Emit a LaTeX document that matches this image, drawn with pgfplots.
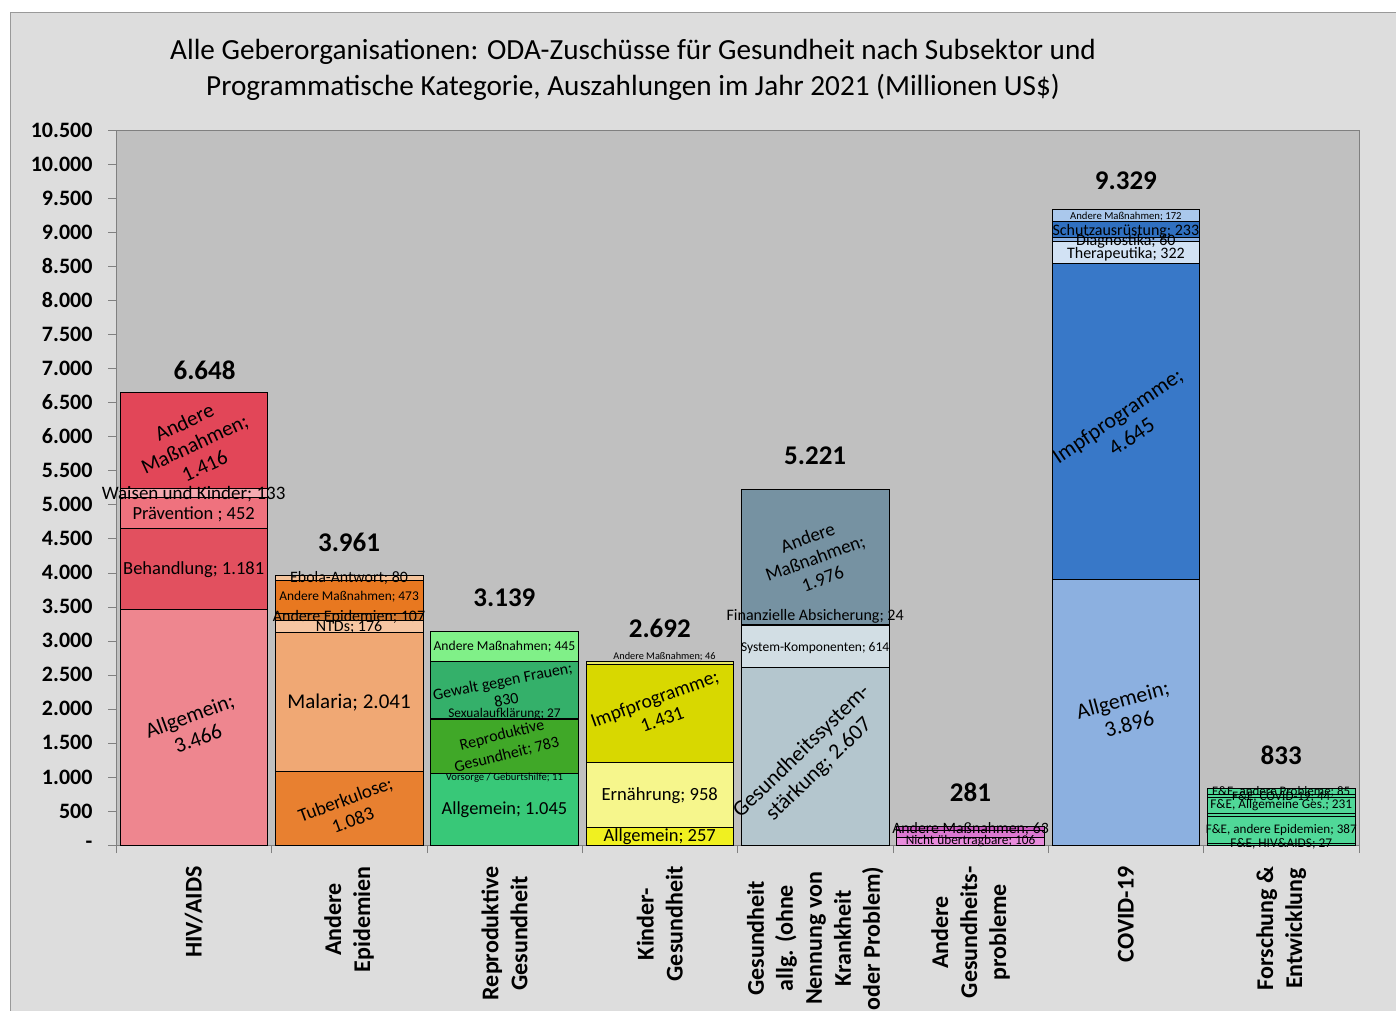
\documentclass[border=0pt]{standalone}
\usepackage{pgfplots}
\pgfplotsset{compat=1.18}
\usepackage{fontspec}
\setmainfont{Carlito}

\definecolor{chartbg}{HTML}{DDDDDD}
\definecolor{plotbg}{HTML}{C0C0C0}
% HIV
\definecolor{hA}{HTML}{EE868F}
\definecolor{hB}{HTML}{E2505F}
\definecolor{hC}{HTML}{EF727E}
\definecolor{hD}{HTML}{F4AAB1}
\definecolor{hE}{HTML}{E24658}
% Andere Epidemien
\definecolor{eA}{HTML}{E88030}
\definecolor{eB}{HTML}{F0A874}
\definecolor{eC}{HTML}{F6C6A2}
\definecolor{eD}{HTML}{D27A32}
\definecolor{eE}{HTML}{E87820}
\definecolor{eF}{HTML}{F5C49C}
% Repro
\definecolor{rA}{HTML}{38C878}
\definecolor{rB}{HTML}{34B870}
\definecolor{rC}{HTML}{40A828}
\definecolor{rD}{HTML}{3CB070}
\definecolor{rE}{HTML}{34B06A}
\definecolor{rF}{HTML}{80F088}
% Kinder
\definecolor{kA}{HTML}{F0F020}
\definecolor{kB}{HTML}{F6F68C}
\definecolor{kC}{HTML}{D8D800}
\definecolor{kD}{HTML}{E8E864}
% Gesundheit allg.
\definecolor{gA}{HTML}{B4C6CE}
\definecolor{gB}{HTML}{D2DEE4}
\definecolor{gC}{HTML}{8CA0AA}
\definecolor{gD}{HTML}{7692A2}
% Andere Gesundheitsprobleme
\definecolor{pA}{HTML}{E88CDC}
\definecolor{pB}{HTML}{DC78D0}
\definecolor{pC}{HTML}{CC5CC0}
% COVID
\definecolor{cA}{HTML}{8CB0E0}
\definecolor{cB}{HTML}{3878C8}
\definecolor{cC}{HTML}{D2E2F4}
\definecolor{cD}{HTML}{8CB0E0}
\definecolor{cE}{HTML}{3070C0}
\definecolor{cF}{HTML}{AAC8EC}
% F&E
\definecolor{fA}{HTML}{50D898}

\pgfplotsset{
  cat/.style={scale only axis, width=1243pt, height=715pt, at={(116pt,165pt)}, anchor=south west,
    xmin=-0.5, xmax=7.5, ymin=0, ymax=10500, ybar stacked, bar width=0.95, clip=false},
  hid/.style={cat, hide axis},
  seg/.style={draw=black, line width=0.7pt},
}
\tikzset{
  tot/.style={font=\bfseries\fontsize{27}{30}\selectfont, inner sep=0pt},
}

\begin{document}
\begin{tikzpicture}
\path[use as bounding box] (0,0) rectangle (1396pt,1010pt);
\fill[white] (0,0) rectangle (1396pt,1010pt);
\draw[draw=gray!80, fill=chartbg] (10pt,-5pt) rectangle (1405pt,998pt);
\node[font=\fontsize{29.2}{36}\selectfont, align=center] at (633pt,940pt)
  {Alle Geberorganisationen: ODA-Zuschüsse für Gesundheit nach Subsektor und\\
   Programmatische Kategorie, Auszahlungen im Jahr 2021 (Millionen US\$)};

% ---------- HIV/AIDS + axis ----------
\begin{axis}[cat,
  axis background/.style={fill=plotbg},
  axis line style={draw=gray},
  scaled y ticks=false,
  ytick={0,500,...,10500},
  yticklabels={-,500,1.000,1.500,2.000,2.500,3.000,3.500,4.000,4.500,5.000,5.500,6.000,6.500,7.000,7.500,8.000,8.500,9.000,9.500,10.000,10.500},
  ytick pos=left, xtick pos=bottom, tick align=outside, major tick length=8pt, minor tick length=8pt,
  ytick style={draw=gray},
  yticklabel style={font=\bfseries\fontsize{22}{22}\selectfont, anchor=east, xshift=-12pt},
  xtick={0,...,7},
  major x tick style={draw=none},
  minor xtick={-0.5,0.5,...,7.5},
  minor x tick style={draw=gray},
  xticklabels={HIV/AIDS, Andere\\Epidemien, Reproduktive\\Gesundheit, Kinder-\\Gesundheit,
    Gesundheit\\allg. (ohne\\Nennung von\\Krankheit\\oder Problem), Andere\\Gesundheits-\\probleme,
    COVID-19, Forschung \&\\Entwicklung},
  xticklabel shift=10pt,
  xticklabel style={rotate=90, anchor=east, align=center, font=\bfseries\fontsize{24}{29}\selectfont},
]
\addplot[seg, fill=hA] coordinates {(0,3466)};
\addplot[seg, fill=hB] coordinates {(0,1181)};
\addplot[seg, fill=hC] coordinates {(0,452)};
\addplot[seg, fill=hD] coordinates {(0,133)};
\addplot[seg, fill=hE] coordinates {(0,1416)};
\end{axis}

% ---------- Andere Epidemien ----------
\begin{axis}[hid]
\addplot[seg, fill=eA] coordinates {(1,1083)};
\addplot[seg, fill=eB] coordinates {(1,2041)};
\addplot[seg, fill=eC] coordinates {(1,176)};
\addplot[seg, fill=eD] coordinates {(1,107)};
\addplot[seg, fill=eE] coordinates {(1,473)};
\addplot[seg, fill=eF] coordinates {(1,80)};
\end{axis}

% ---------- Reproduktive Gesundheit ----------
\begin{axis}[hid]
\addplot[seg, fill=rA] coordinates {(2,1045)};
\addplot[seg, fill=rB] coordinates {(2,11)};
\addplot[seg, fill=rC] coordinates {(2,783)};
\addplot[seg, fill=rD] coordinates {(2,27)};
\addplot[seg, fill=rE] coordinates {(2,830)};
\addplot[seg, fill=rF] coordinates {(2,445)};
\end{axis}

% ---------- Kinder-Gesundheit ----------
\begin{axis}[hid]
\addplot[seg, fill=kA] coordinates {(3,257)};
\addplot[seg, fill=kB] coordinates {(3,958)};
\addplot[seg, fill=kC] coordinates {(3,1431)};
\addplot[seg, fill=kD] coordinates {(3,46)};
\end{axis}

% ---------- Gesundheit allg. ----------
\begin{axis}[hid]
\addplot[seg, fill=gA] coordinates {(4,2607)};
\addplot[seg, fill=gB] coordinates {(4,614)};
\addplot[seg, fill=gC] coordinates {(4,24)};
\addplot[seg, fill=gD] coordinates {(4,1976)};
\end{axis}

% ---------- Andere Gesundheitsprobleme ----------
\begin{axis}[hid]
\addplot[seg, fill=pA] coordinates {(5,106)};
\addplot[seg, fill=pB] coordinates {(5,112)};
\addplot[seg, fill=pC] coordinates {(5,63)};
\end{axis}

% ---------- COVID-19 ----------
\begin{axis}[hid]
\addplot[seg, fill=cA] coordinates {(6,3896)};
\addplot[seg, fill=cB] coordinates {(6,4645)};
\addplot[seg, fill=cC] coordinates {(6,322)};
\addplot[seg, fill=cD] coordinates {(6,60)};
\addplot[seg, fill=cE] coordinates {(6,233)};
\addplot[seg, fill=cF] coordinates {(6,172)};
\end{axis}

% ---------- Forschung & Entwicklung ----------
\begin{axis}[hid]
\addplot[seg, fill=fA] coordinates {(7,27)};
\addplot[seg, fill=fA] coordinates {(7,387)};
\addplot[seg, fill=fA] coordinates {(7,58)};
\addplot[seg, fill=fA] coordinates {(7,231)};
\addplot[seg, fill=fA] coordinates {(7,44)};
\addplot[seg, fill=fA] coordinates {(7,85)};
\end{axis}

% ---------- labels on top ----------
\begin{axis}[hid]
% HIV
\node[rotate=20, align=center, font=\fontsize{21.5}{24}\selectfont] at (axis cs:0,1733) {Allgemein;\\3.466};
\node[font=\fontsize{18.5}{21}\selectfont] at (axis cs:0,4045) {Behandlung; 1.181};
\node[font=\fontsize{18.5}{21}\selectfont] at (axis cs:0,4861) {Prävention ; 452};
\node[font=\fontsize{19}{21}\selectfont] at (axis cs:0,5154) {Waisen und Kinder; 133};
\node[rotate=25, align=center, font=\fontsize{21}{24}\selectfont] at (axis cs:0.005,5890) {Andere\\Maßnahmen;\\1.416};
\node[tot] at (axis cs:0.07,6975) {6.648};
% Epidemien
\node[rotate=20, align=center, font=\fontsize{19}{22}\selectfont] at (axis cs:1,520) {Tuberkulose;\\1.083};
\node[font=\fontsize{21}{24}\selectfont] at (axis cs:1,2090) {Malaria; 2.041};
\node[font=\fontsize{16}{18}\selectfont] at (axis cs:1,3201) {NTDs; 176};
\node[font=\fontsize{16}{18}\selectfont] at (axis cs:1,3348) {Andere Epidemien; 107};
\node[font=\fontsize{13.4}{16}\selectfont] at (axis cs:1,3642) {Andere Maßnahmen; 473};
\node[font=\fontsize{15.9}{18}\selectfont] at (axis cs:1,3921) {Ebola-Antwort; 80};
\node[tot] at (axis cs:1,4450) {3.961};
% Repro
\node[font=\fontsize{18.4}{21}\selectfont] at (axis cs:2,514) {Allgemein; 1.045};
\node[font=\fontsize{10.7}{12}\selectfont] at (axis cs:2,984) {Vorsorge / Geburtshilfe; 11};
\node[rotate=14, align=center, font=\fontsize{16}{20}\selectfont] at (axis cs:2.0,1468) {Reproduktive\\Gesundheit; 783};
\node[font=\fontsize{13.3}{15}\selectfont] at (axis cs:2,1924) {Sexualaufklärung; 27};
\node[rotate=11, align=center, font=\fontsize{16}{19}\selectfont] at (axis cs:2,2270) {Gewalt gegen Frauen;\\830};
\node[font=\fontsize{13.6}{16}\selectfont] at (axis cs:2,2908) {Andere Maßnahmen; 445};
\node[tot] at (axis cs:2,3627) {3.139};
% Kinder
\node[font=\fontsize{18.5}{21}\selectfont] at (axis cs:3,117) {Allgemein; 257};
\node[font=\fontsize{18.6}{21}\selectfont] at (axis cs:3,720) {Ernährung; 958};
\node[rotate=20, align=center, font=\fontsize{19.5}{22}\selectfont] at (axis cs:2.99,2000) {Impfprogramme;\\1.431};
\node[font=\fontsize{10.3}{12}\selectfont] at (axis cs:3.03,2761) {Andere Maßnahmen; 46};
\node[tot] at (axis cs:3,3187) {2.692};
% Gesundheit allg.
\node[rotate=44, align=center, font=\fontsize{22}{25}\selectfont] at (axis cs:3.97,1240) {Gesundheitssystem-\\stärkung; 2.607};
\node[font=\fontsize{13.5}{16}\selectfont] at (axis cs:4,2893) {System-Komponenten; 614};
\node[font=\fontsize{16}{19}\selectfont] at (axis cs:4,3363) {Finanzielle Absicherung; 24};
\node[rotate=20, align=center, font=\fontsize{19}{22}\selectfont] at (axis cs:4,4215) {Andere\\Maßnahmen;\\1.976};
\node[tot] at (axis cs:4,5712) {5.221};
% Andere Gesundheitsprobleme
\node[font=\fontsize{13.3}{15}\selectfont] at (axis cs:5,59) {Nicht übertragbare; 106};
\node[font=\fontsize{15.8}{18}\selectfont] at (axis cs:5,235) {Andere Maßnahmen; 63};
\node[tot] at (axis cs:5,778) {281};
% COVID
\node[rotate=15, align=center, font=\fontsize{22}{25}\selectfont] at (axis cs:6.0,1960) {Allgemein;\\3.896};
\node[rotate=34, align=center, font=\fontsize{22}{25}\selectfont] at (axis cs:5.99,6150) {Impfprogramme;\\4.645};
\node[font=\fontsize{16}{18}\selectfont] at (axis cs:6,8679) {Therapeutika; 322};
\node[font=\fontsize{16}{18}\selectfont] at (axis cs:6,8870) {Diagnostika; 60};
\node[font=\fontsize{16}{18}\selectfont] at (axis cs:6,9017) {Schutzausrüstung; 233};
\node[font=\fontsize{10.7}{12}\selectfont] at (axis cs:6,9237) {Andere Maßnahmen; 172};
\node[tot] at (axis cs:6,9751) {9.329};
% F&E
\node[font=\fontsize{13.3}{15}\selectfont] at (axis cs:7,15) {F\&E, HIV\&AIDS; 27};
\node[font=\fontsize{13.1}{15}\selectfont] at (axis cs:7,220) {F\&E, andere Epidemien; 387};
\node[font=\fontsize{13.3}{15}\selectfont] at (axis cs:7,587) {F\&E, Allgemeine Ges.; 231};
\node[font=\fontsize{13}{15}\selectfont] at (axis cs:7,705) {F\&E, COVID-19; 44};
\node[font=\fontsize{13}{15}\selectfont] at (axis cs:7,778) {F\&E, andere Probleme; 85};
\node[tot] at (axis cs:7,1322) {833};
\end{axis}
\end{tikzpicture}
\end{document}
